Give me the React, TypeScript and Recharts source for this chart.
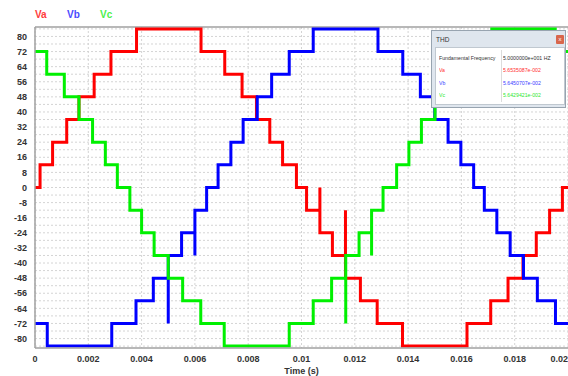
import React from 'react';
import { LineChart, Line, XAxis, YAxis, CartesianGrid, ReferenceLine } from 'recharts';

// ---- data ----
const T_END = 0.02;

const xTicks = [0, 0.002, 0.004, 0.006, 0.008, 0.01, 0.012, 0.014, 0.016, 0.018, 0.02];
const xTickLabels = ['0', '0.002', '0.004', '0.006', '0.008', '0.01', '0.012', '0.014', '0.016', '0.018', '0.02'];
const yTicks = [80, 72, 64, 56, 48, 40, 32, 24, 16, 8, 0, -8, -16, -24, -32, -40, -48, -56, -64, -72, -80];
const yGrid = [84, 80, 76, 72, 68, 64, 60, 56, 52, 48, 44, 40, 36, 32, 28, 24, 20, 16, 12, 8, 4, 0, -4, -8, -12, -16, -20, -24, -28, -32, -36, -40, -44, -48, -52, -56, -60, -64, -68, -72, -76, -80, -84];

// Va: switching instants (s) and the level held from each instant
const vaTimes = [0, 0.00019, 0.00066, 0.00119, 0.00165, 0.00222, 0.00285, 0.00381, 0.00623, 0.00712, 0.00777, 0.00831, 0.00881, 0.00929, 0.00981, 0.01019, 0.01069, 0.01116, 0.01165, 0.01221, 0.01284, 0.01379, 0.01621, 0.0171, 0.01775, 0.01831, 0.01881, 0.01931, 0.01979];
const vaLevels = [0, 12, 24, 36, 48, 60, 72, 84, 72, 60, 48, 36, 24, 12, 0, -12, -24, -36, -48, -60, -72, -84, -72, -60, -48, -36, -24, -12, 0];
const vaSpikes: [number, number][] = [[0.01069, 0], [0.01165, -12]];

// Vb
const vbTimes = [0, 0.00046, 0.00288, 0.00379, 0.00444, 0.005, 0.0055, 0.006, 0.00644, 0.00687, 0.00735, 0.00781, 0.00834, 0.00888, 0.00954, 0.01044, 0.01287, 0.0138, 0.01446, 0.015, 0.0155, 0.01598, 0.01646, 0.01686, 0.01733, 0.01783, 0.01833, 0.01885, 0.01953];
const vbLevels = [-72, -84, -72, -60, -48, -36, -24, -12, 0, 12, 24, 36, 48, 60, 72, 84, 72, 60, 48, 36, 24, 12, 0, -12, -24, -36, -48, -60, -72];
const vbSpikes: [number, number][] = [[0.005, -72], [0.006, -36]];

// Vc
const vcTimes = [0, 0.00044, 0.0011, 0.00165, 0.00216, 0.00264, 0.00309, 0.00356, 0.004, 0.00447, 0.005, 0.00554, 0.00622, 0.0071, 0.00954, 0.01044, 0.01113, 0.01166, 0.01216, 0.01263, 0.01306, 0.01357, 0.01403, 0.0145, 0.01501, 0.01556, 0.01623, 0.01714, 0.01952];
const vcLevels = [72, 60, 48, 36, 24, 12, 0, -12, -24, -36, -48, -60, -72, -84, -72, -60, -48, -36, -24, -12, 0, 12, 24, 36, 48, 60, 72, 84, 72];
const vcSpikes: [number, number][] = [[0.01166, -72], [0.01263, -36]];

const thdRows = [
  { name: 'Va', value: '5.6535087e-002', color: '#ff3030' },
  { name: 'Vb', value: '5.6450707e-002', color: '#3c3cff' },
  { name: 'Vc', value: '5.6429421e-002', color: '#30e830' },
];

function buildSteps(times: number[], levels: number[], spikes: [number, number][]) {
  const pts: { t: number; v: number }[] = [];
  for (let i = 0; i < times.length; i++) {
    const t = times[i];
    if (i > 0) {
      pts.push({ t, v: levels[i - 1] });
      const sp = spikes.find((s) => s[0] === t);
      if (sp) pts.push({ t, v: sp[1] });
    }
    pts.push({ t, v: levels[i] });
  }
  pts.push({ t: T_END, v: levels[levels.length - 1] });
  return pts;
}

const vaData = buildSteps(vaTimes, vaLevels, vaSpikes);
const vbData = buildSteps(vbTimes, vbLevels, vbSpikes);
const vcData = buildSteps(vcTimes, vcLevels, vcSpikes);

const FONT = "'Liberation Sans Narrow', 'Liberation Sans', Arial, sans-serif";
const SMALL = "'Liberation Sans', Arial, sans-serif";

const XTick = (props: any) => {
  const { x, y, payload, index } = props;
  const last = index === xTicks.length - 1 || payload.value === T_END;
  return (
    <text x={x} y={y} dy="0.71em" textAnchor={last ? 'end' : 'middle'} fill="#333" fontSize={9} fontWeight="bold" fontFamily={FONT}>
      {xTickLabels[index] ?? String(payload.value)}
    </text>
  );
};

const cell: React.CSSProperties = {
  position: 'absolute',
  fontSize: 6.5,
  lineHeight: '8px',
  whiteSpace: 'nowrap',
  transform: 'scale(0.8)',
  transformOrigin: 'left center',
};

export default function App() {
  return (
    <div style={{ position: 'absolute', left: 0, top: 0, width: 568, height: 376, background: '#fff', overflow: 'hidden' }}>
      <LineChart width={568} height={376} margin={{ top: 27, right: 0, bottom: 0, left: 0 }}>
        <CartesianGrid horizontalValues={yGrid} verticalValues={xTicks} stroke="#d4d4d4" strokeDasharray="2 2" />
        <XAxis
          type="number"
          dataKey="t"
          domain={[0, T_END]}
          ticks={xTicks}
          interval={0}
          height={28}
          tickLine={false}
          axisLine={{ stroke: '#a0a0a0', strokeWidth: 1.5 }}
          tick={(p: any) => <XTick {...p} />}
          allowDuplicatedCategory={false}
          label={{ value: 'Time (s)', position: 'insideBottom', offset: 2, fill: '#333', fontSize: 9, fontWeight: 'bold', fontFamily: FONT }}
        />
        <YAxis
          type="number"
          domain={[-85, 85]}
          ticks={yTicks}
          interval={0}
          width={35}
          tickLine={false}
          axisLine={{ stroke: '#a0a0a0', strokeWidth: 1.5 }}
          tick={{ fill: '#333', fontSize: 9, fontWeight: 'bold', fontFamily: FONT }}
        />
        <ReferenceLine y={85} stroke="#a0a0a0" strokeWidth={1.5} />
        <Line data={vaData} dataKey="v" type="linear" stroke="#ff0000" strokeWidth={3} dot={false} isAnimationActive={false} />
        <Line data={vbData} dataKey="v" type="linear" stroke="#0000ff" strokeWidth={3} dot={false} isAnimationActive={false} />
        <Line data={vcData} dataKey="v" type="linear" stroke="#00f000" strokeWidth={3} dot={false} isAnimationActive={false} />
      </LineChart>

      {/* legend */}
      {[
        { n: 'Va', c: '#ff3c3c', x: 35 },
        { n: 'Vb', c: '#4a4aff', x: 67 },
        { n: 'Vc', c: '#4cf04c', x: 100 },
      ].map((l) => (
        <div key={l.n} style={{ position: 'absolute', left: l.x, top: 9, fontSize: 10, lineHeight: '12px', fontWeight: 'bold', color: l.c, fontFamily: FONT }}>
          {l.n}
        </div>
      ))}

      {/* THD window */}
      <div style={{ position: 'absolute', left: 431, top: 30, width: 135, height: 78, boxSizing: 'border-box', background: '#dfe6ee', border: '1px solid #98a4b0', fontFamily: SMALL }}>
        <div style={{ position: 'absolute', left: 4, top: 5, fontSize: 6.5, lineHeight: '8px', color: '#333' }}>THD</div>
        <div style={{ position: 'absolute', left: 124, top: 4, width: 8, height: 9, background: '#d8664c', borderRadius: 1, color: '#fff', fontSize: 6, lineHeight: '9px', textAlign: 'center' }}>x</div>
        <div style={{ position: 'absolute', left: 3, top: 16, width: 130, height: 58, boxSizing: 'border-box', background: '#fff', border: '1px solid #c0c8d0' }}>
          <div style={{ position: 'absolute', left: 65, top: 2, width: 1, height: 52, background: '#dcdcdc' }} />
          <div style={{ ...cell, left: 3, top: 6, color: '#333' }}>Fundamental Frequency</div>
          <div style={{ ...cell, left: 67, top: 6, color: '#333' }}>5.0000000e+001 HZ</div>
          {thdRows.map((r, i) => (
            <React.Fragment key={r.name}>
              <div style={{ ...cell, left: 3, top: 18 + i * 12.6, color: r.color }}>{r.name}</div>
              <div style={{ ...cell, left: 67, top: 18 + i * 12.6, color: r.color }}>{r.value}</div>
            </React.Fragment>
          ))}
        </div>
      </div>
    </div>
  );
}
